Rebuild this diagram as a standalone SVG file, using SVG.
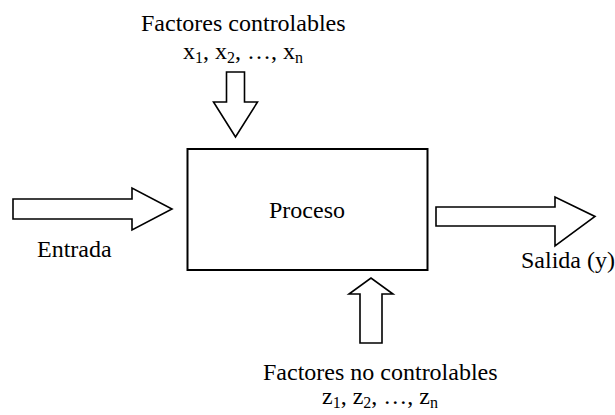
<svg xmlns="http://www.w3.org/2000/svg" width="615" height="415" viewBox="0 0 615 415">
  <style>
    text { font-family: 'Liberation Serif', 'Times New Roman', Times, 'DejaVu Serif', serif; font-size: 24px; fill: #000; }
    .sub { font-size: 16px; }
    .arrow { fill: #fff; stroke: #000; stroke-width: 1.6; stroke-linejoin: miter; }
    .box { fill: #fff; stroke: #000; stroke-width: 2; }
  </style>

  <!-- block arrows -->
  <g id="connectors">
    <!-- controllable factors, pointing down into the process -->
    <polygon class="arrow" points="226.5,72 244.5,72 244.5,102 257.5,102 235.5,137 213.5,102 226.5,102 226.5,72"/>
    <!-- input arrow -->
    <polygon class="arrow" points="13,199 132,199 132,188 172,209 132,230 132,219 13,219"/>
    <!-- output arrow -->
    <polygon class="arrow" points="436,207 555,207 555,197 595,216.5 555,246 555,226 436,226"/>
    <!-- uncontrollable factors, pointing up into the process -->
    <polygon class="arrow" points="360,343 382,343 382,294 393,294 371,278 349,294 360,294"/>
  </g>

  <g id="proceso">
    <rect class="box" x="187.5" y="149" width="240" height="121"/>
    <text x="307" y="218" text-anchor="middle" font-family="Liberation Serif, serif">Proceso</text>
  </g>

  <g id="factores-controlables" font-family="Liberation Serif, serif">
    <text x="141" y="31">Factores controlables</text>
    <text x="183" y="59">x<tspan class="sub" dy="4">1</tspan><tspan dy="-4">, x</tspan><tspan class="sub" dy="4">2</tspan><tspan dy="-4">, …, x</tspan><tspan class="sub" dy="4">n</tspan></text>
  </g>

  <g id="entrada" font-family="Liberation Serif, serif">
    <text x="37" y="257">Entrada</text>
  </g>

  <g id="salida" font-family="Liberation Serif, serif">
    <text x="521" y="268">Salida (y)</text>
  </g>

  <g id="factores-no-controlables" font-family="Liberation Serif, serif">
    <text x="263" y="380">Factores no controlables</text>
    <text x="322" y="404">z<tspan class="sub" dy="4">1</tspan><tspan dy="-4">, z</tspan><tspan class="sub" dy="4">2</tspan><tspan dy="-4">, …, z</tspan><tspan class="sub" dy="4">n</tspan></text>
  </g>
</svg>
